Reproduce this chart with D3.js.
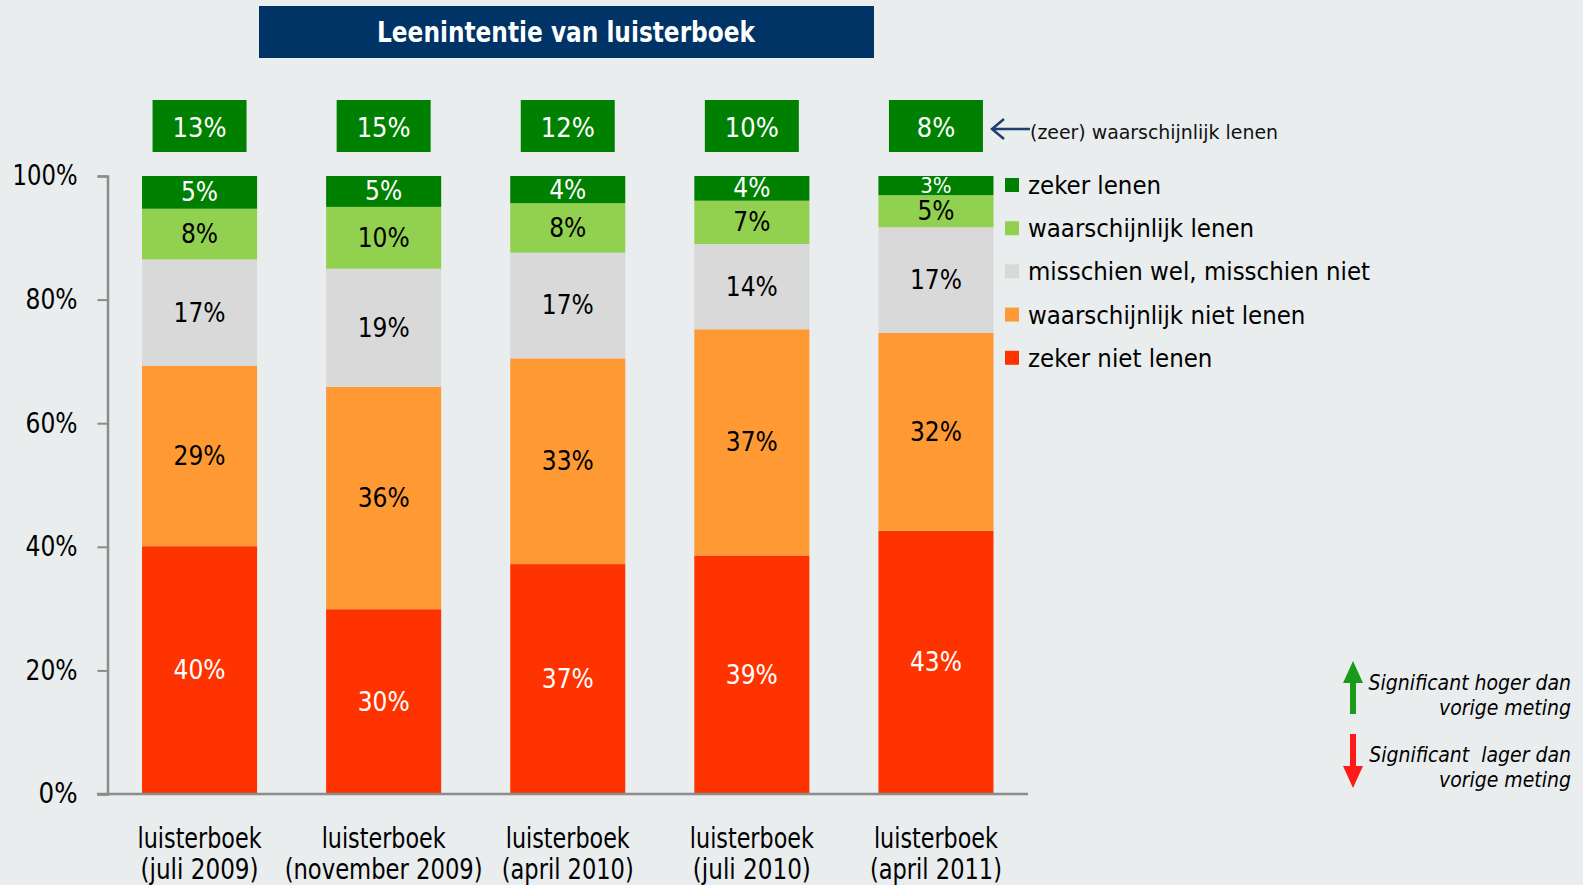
<!DOCTYPE html>
<html>
<head>
<meta charset="utf-8">
<script src="https://cdn.jsdelivr.net/npm/d3@7"></script>
<style>
  html, body { margin: 0; padding: 0; background: #e9edee; }
  svg { display: block; }
  text { font-family: "DejaVu Sans Condensed", "DejaVu Sans", sans-serif; white-space: pre; }
</style>
</head>
<body>
<svg id="chart" width="1583" height="885"></svg>
<script>
// ---- Data ----
const title = "Leenintentie van luisterboek";
const categoryLine1 = ["luisterboek", "luisterboek", "luisterboek", "luisterboek", "luisterboek"];
const categoryLine2 = ["(juli 2009)", "(november 2009)", "(april 2010)", "(juli 2010)", "(april 2011)"];
const seriesNames = ["zeker niet lenen", "waarschijnlijk niet lenen", "misschien wel, misschien niet", "waarschijnlijk lenen", "zeker lenen"];
const zekerNiet       = [40.1, 29.9, 37.2, 38.6, 42.6];
const waarschNiet     = [29.2, 36.0, 33.3, 36.6, 32.0];
const misschien       = [17.2, 19.1, 17.1, 13.8, 17.1];
const waarschLenen    = [8.2, 10.0, 8.0, 7.0, 5.2];
const zekerLenen      = [5.3, 5.0, 4.4, 4.0, 3.1];
const topTotals       = [13, 15, 12, 10, 8];
const topNote = "(zeer) waarschijnlijk lenen";
const yTicks = [0, 20, 40, 60, 80, 100];
const sigUp = ["Significant hoger dan", "vorige meting"];
const sigDown = ["Significant  lager dan", "vorige meting"];

// ---- Styles ----
const colors = ["#ff3300", "#ff9933", "#d9d9d9", "#92d050", "#008000"];
const labelColors = ["#ffffff", "#000000", "#000000", "#000000", "#ffffff"];

const svg = d3.select("#chart");
const seriesValues = [zekerNiet, waarschNiet, misschien, waarschLenen, zekerLenen];
const rows = categoryLine2.map((c, i) => {
  const r = { cat: c };
  seriesNames.forEach((s, j) => r[s] = seriesValues[j][i]);
  return r;
});

const x = d3.scaleBand().domain(categoryLine2).range([107.5, 1028]).paddingInner(0.375).paddingOuter(0.1875);
const y = d3.scaleLinear().domain([0, 100]).range([794, 176]);

const stack = d3.stack().keys(seriesNames)(rows);

// Title
svg.append("rect").attr("x", 259).attr("y", 6).attr("width", 615).attr("height", 52).attr("fill", "#003366");
svg.append("text").attr("x", 566).attr("y", 32).attr("text-anchor", "middle").attr("dominant-baseline", "central")
  .attr("fill", "#fff").attr("font-weight", "bold").attr("font-size", 28)
  .attr("textLength", 378).attr("lengthAdjust", "spacingAndGlyphs").text(title);

// Bars
const layers = svg.append("g").selectAll("g").data(stack).join("g").attr("fill", (d, i) => colors[i]);
layers.selectAll("rect").data(d => d).join("rect")
  .attr("x", d => x(d.data.cat))
  .attr("width", x.bandwidth())
  .attr("y", d => y(d[1]))
  .attr("height", d => y(d[0]) - y(d[1]));

// Segment labels
stack.forEach((layer, i) => {
  svg.append("g").selectAll("text").data(layer).join("text")
    .attr("x", d => x(d.data.cat) + x.bandwidth() / 2)
    .attr("y", d => (y(d[0]) + y(d[1])) / 2)
    .attr("text-anchor", "middle").attr("dominant-baseline", "central")
    .attr("font-size", d => (y(d[0]) - y(d[1])) < 22 ? 22 : 26).attr("fill", labelColors[i])
    .text(d => Math.round(d[1] - d[0]) + "%");
});

// Axes
const axisColor = "#8c8c8c";
const yAxis = svg.append("g").attr("transform", "translate(107.5,0)")
  .call(d3.axisLeft(y).tickValues(yTicks).tickSize(10).tickPadding(20).tickFormat(d => d + "%"));
yAxis.select(".domain").attr("stroke", axisColor).attr("stroke-width", 2.5);
yAxis.selectAll(".tick line").attr("stroke", axisColor).attr("stroke-width", 2);
yAxis.selectAll(".tick text").attr("font-size", 28).attr("fill", "#000").attr("font-family", "DejaVu Sans Condensed, DejaVu Sans, sans-serif")
  .attr("textLength", d => d === 100 ? 65 : (d === 0 ? 39 : 52)).attr("lengthAdjust", "spacingAndGlyphs");

const xAxis = svg.append("g").attr("transform", "translate(0,794)")
  .call(d3.axisBottom(x).tickSize(0).tickFormat(""));
xAxis.select(".domain").attr("stroke", axisColor).attr("stroke-width", 2.5).attr("d", "M97,0H1028");

// Category labels
const catG = svg.append("g");
categoryLine2.forEach((c, i) => {
  const cx = x(c) + x.bandwidth() / 2;
  catG.append("text").attr("x", cx).attr("y", 838).attr("text-anchor", "middle").attr("dominant-baseline", "central")
    .attr("font-size", 28).attr("textLength", 124).attr("lengthAdjust", "spacingAndGlyphs").text(categoryLine1[i]);
  const w2 = [118, 198, 132, 118, 132][i];
  catG.append("text").attr("x", cx).attr("y", 869).attr("text-anchor", "middle").attr("dominant-baseline", "central")
    .attr("font-size", 28).attr("textLength", w2).attr("lengthAdjust", "spacingAndGlyphs").text(c);
});

// Top total boxes
const boxW = 94, boxH = 52;
const tb = svg.append("g").selectAll("g").data(topTotals).join("g")
  .attr("transform", (d, i) => `translate(${x(categoryLine2[i]) + x.bandwidth() / 2},${100})`);
tb.append("rect").attr("x", -boxW / 2).attr("y", 0).attr("width", boxW).attr("height", boxH).attr("fill", "#008000");
tb.append("text").attr("x", 0).attr("y", boxH / 2 + 1).attr("text-anchor", "middle").attr("dominant-baseline", "central")
  .attr("font-size", 27).attr("fill", "#fff").text(d => d + "%");

// Arrow + note
svg.append("path").attr("d", "M992,129H1030 M1004,119L992,129L1004,139").attr("fill", "none")
  .attr("stroke", "#1f3d6e").attr("stroke-width", 2.5);
svg.append("text").attr("x", 1030).attr("y", 132).attr("dominant-baseline", "central").attr("font-size", 20)
  .attr("fill", "#111").attr("textLength", 248).attr("lengthAdjust", "spacingAndGlyphs").text(topNote);

// Legend
const legendOrder = [4, 3, 2, 1, 0];
const lg = svg.append("g").selectAll("g").data(legendOrder).join("g")
  .attr("transform", (d, i) => `translate(1005,${185 + i * 43.2})`);
lg.append("rect").attr("x", 0).attr("y", -7).attr("width", 14).attr("height", 14).attr("fill", d => colors[d]);
lg.append("text").attr("x", 23).attr("y", 0).attr("dominant-baseline", "central").attr("font-size", 25.5)
  .attr("fill", "#000").text(d => seriesNames[d]);

// Significance legend
svg.append("path").attr("d", "M1350,683H1356V714H1350Z M1343,683L1353,661L1363,683Z").attr("fill", "#1a9a1a");
svg.append("path").attr("d", "M1350,734H1356V766H1350Z M1343,766L1353,788L1363,766Z").attr("fill", "#ff1a1a");
const sig = svg.append("g").attr("font-style", "italic").attr("font-size", 21).attr("text-anchor", "end");
sig.append("text").attr("x", 1571).attr("y", 683).attr("dominant-baseline", "central").text(sigUp[0]);
sig.append("text").attr("x", 1571).attr("y", 708).attr("dominant-baseline", "central").text(sigUp[1]);
sig.append("text").attr("x", 1571).attr("y", 755).attr("dominant-baseline", "central").text(sigDown[0]);
sig.append("text").attr("x", 1571).attr("y", 780).attr("dominant-baseline", "central").text(sigDown[1]);
</script>
</body>
</html>
